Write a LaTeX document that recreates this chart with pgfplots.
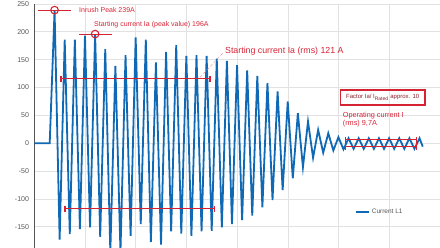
\documentclass[border=0pt]{standalone}
\usepackage{fontspec}
\setmainfont{Liberation Sans}
\usepackage{pgfplots}
\pgfplotsset{compat=1.18}
\definecolor{wave}{RGB}{15,105,180}
\definecolor{ann}{RGB}{214,35,52}
\definecolor{anndark}{RGB}{140,30,40}
\definecolor{gridc}{RGB}{226,226,226}
\definecolor{axc}{RGB}{85,85,85}
\begin{document}
\begin{tikzpicture}
\begin{axis}[
  scale only axis, width=405.5pt, height=244pt,
  xmin=0, xmax=800, ymin=-188, ymax=250,
  xtick={100,200,...,700}, xticklabels={},
  ytick={-150,-100,...,250},
  grid=major, major grid style={gridc, line width=0.8pt},
  axis x line*=bottom, axis y line*=left,
  x axis line style={draw=none},
  y axis line style={axc, line width=0.9pt},
  major tick length=0pt,
  yticklabel style={font=\fontsize{7}{8}\selectfont, text=axc, xshift=-2pt},
  /pgf/number format/assume math mode=true,
  clip mode=individual,
  legend style={at={(0.79,0.146)}, anchor=west, draw=none, fill=none,
    font=\fontsize{6.5}{7}\selectfont, text=axc, inner sep=0pt},
  legend image code/.code={\draw[#1] (0pt,0pt) -- (13pt,0pt);},
]
\addplot[wave, line width=1.8pt, line join=miter] coordinates {
(0,0) (30,0)
(39.6,239) (49.6,-173)
(59.6,186) (69.6,-163)
(79.6,186) (89.6,-154)
(99.6,193) (109.6,-151)
(119.6,196) (129.6,-168)
(139.6,169) (149.6,-195)
(159.6,139) (169.6,-195)
(179.6,158) (189.6,-166)
(199.6,190) (209.6,-145)
(219.6,186) (229.6,-177)
(239.6,145) (249.6,-182)
(259.6,164) (269.6,-158)
(279.6,176) (289.6,-162)
(299.6,157) (309.6,-166)
(319.6,158) (329.6,-158)
(339.6,157) (349.6,-157)
(359.6,152) (369.6,-151)
(379.6,148) (389.6,-145)
(399.6,140) (409.6,-138)
(419.6,131) (429.6,-130)
(439.6,121) (449.6,-115)
(459.6,108) (469.6,-102)
(479.6,93) (489.6,-84)
(499.6,75) (509.6,-63)
(519.6,54) (529.6,-43)
(539.6,39) (549.6,-26)
(559.6,24) (569.6,-17)
(579.6,18) (589.6,-13)
(599.6,11) (609.6,-11)
(619.6,9) (629.6,-10)
(639.6,9) (649.6,-10)
(659.6,9) (669.6,-10)
(679.6,9) (689.6,-10)
(699.6,9) (709.6,-10)
(719.6,9) (729.6,-10)
(739.6,9) (749.6,-10)
(759.6,9) (766,-6)
};
\addlegendentry{Current L1}

% inrush peak
\draw[ann, line width=1.1pt] (7.5,239) -- (71.4,239);
\draw[ann, line width=1.1pt] (39.6,239) circle[radius=3.8pt];
\node[anchor=west, inner sep=0pt, text=ann, font=\fontsize{7}{8}\selectfont] at (87.8,239.8) {Inrush Peak 239A};
% peak value
\draw[ann, line width=1.1pt] (87.8,196) -- (152.3,196);
\draw[ann, line width=1.1pt] (119.6,196) circle[radius=3.8pt];
\node[anchor=west, inner sep=0pt, text=ann, font=\fontsize{7}{8}\selectfont] at (117.4,212.3) {Starting current Ia (peak value) 196A};
% rms brackets
\draw[ann!55, line width=0.4pt, densely dashed] (326.5,118.5) -- (371.3,161.6);
\draw[ann, line width=1.1pt] (52.3,115.5) -- (346.2,115.5);
\draw[ann, line width=1.1pt] (52.3,110.5) -- (52.3,120.5);
\draw[ann, line width=1.1pt] (346.2,110.5) -- (346.2,120.5);
\draw[ann, line width=1.1pt] (60.2,-117.7) -- (354.7,-117.7);
\draw[ann, line width=1.1pt] (60.2,-122.7) -- (60.2,-112.7);
\draw[ann, line width=1.1pt] (354.7,-122.7) -- (354.7,-112.7);
\node[anchor=west, inner sep=0pt, text=ann, font=\fontsize{8.8}{10}\selectfont] at (375.8,165.7) {Starting current Ia (rms) 121 A};
% factor box
\draw[ann, line width=1.3pt] (604,68.8) rectangle (770.5,95.7);
\node[inner sep=0pt, text=anndark, font=\fontsize{6}{7}\selectfont] at (687,82.2) {Factor Ia/ I\textsubscript{Rated} approx. 10};
% operating current
\node[anchor=west, inner sep=0pt, text=ann, font=\fontsize{7.3}{8}\selectfont] at (608,49.1) {Operating current I};
\node[anchor=west, inner sep=0pt, text=ann, font=\fontsize{7.3}{8}\selectfont] at (608,36) {(rms) 9,7A};
\draw[ann, line width=1pt] (614.5,6.9) -- (754,6.9);
\draw[ann, line width=1pt] (614.5,-5.3) -- (754,-5.3);
\draw[ann, line width=1pt] (614.5,10.9) -- (614.5,-11.9);
\draw[ann, line width=1pt] (754,10.9) -- (754,-11.9);
\end{axis}
\pgfresetboundingbox
\useasboundingbox (-34.5pt,0pt) rectangle (405.5pt,248pt);
\end{tikzpicture}
\end{document}
